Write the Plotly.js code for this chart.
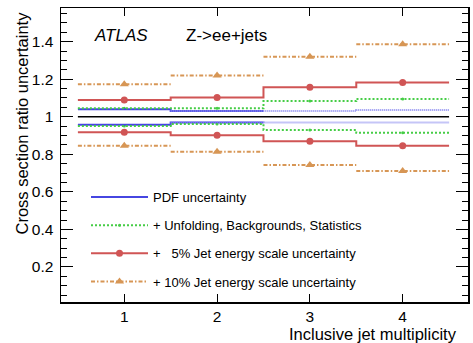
<!DOCTYPE html>
<html><head><meta charset="utf-8">
<script src="https://cdn.plot.ly/plotly-3.0.1.min.js"></script>
<style>html,body{margin:0;padding:0;background:#fff}</style>
</head><body><div id="chart" style="width:473px;height:343px"></div>
<script>
// ---- data ----
const binEdges = [0.5, 1.5, 2.5, 3.5, 4.5];
const jetMult = [1, 2, 3, 4];
const tickLabels = ['1', '2', '3', '4'];
const central = [1, 1, 1, 1];
const pdfUp = [1.040, 1.031, 1.031, 1.036];
const pdfDn = [0.958, 0.970, 0.969, 0.969];
const unfUp = [1.045, 1.045, 1.084, 1.095];
const unfDn = [0.951, 0.962, 0.930, 0.915];
const jes5Up = [1.089, 1.102, 1.157, 1.182];
const jes5Dn = [0.917, 0.902, 0.870, 0.846];
const jes10Up = [1.173, 1.219, 1.320, 1.386];
const jes10Dn = [0.846, 0.813, 0.743, 0.711];
const seriesNames = ['PDF uncertainty', '+ Unfolding, Backgrounds, Statistics',
  '+   5% Jet energy scale uncertainty', '+ 10% Jet energy scale uncertainty'];

// ---- helpers ----
const FONT = 'Liberation Sans, Arial, Helvetica, sans-serif';
function stepY(v){ return v.concat([v[v.length-1]]); }
function stepTrace(edges, vals, line, group){
  return {x: edges, y: stepY(vals), type: 'scatter', mode: 'lines', line: Object.assign({shape: 'hv'}, line),
    showlegend: false, legendgroup: group, hoverinfo: 'skip'};
}
function segTrace(edges, vals, line, group){
  const x = [], y = [];
  vals.forEach((v, i) => { x.push(edges[i], edges[i+1], null); y.push(v, v, null); });
  return {x: x, y: y, type: 'scatter', mode: 'lines', connectgaps: false, line: line,
    showlegend: false, legendgroup: group, hoverinfo: 'skip'};
}
function pointsTrace(up, dn, line, marker, name, group, showlegend){
  const x = [], y = [];
  [up, dn].forEach(arr => arr.forEach((v, i) => { x.push(jetMult[i], null); y.push(v, null); }));
  return {x: x, y: y, type: 'scatter', mode: 'lines+markers', connectgaps: false, line: line, marker: marker,
    name: name, legendgroup: group, showlegend: showlegend};
}

const blue = 'rgb(70,70,225)', blueLight = 'rgb(140,140,240)';
const green = 'rgb(70,205,70)';
const red = 'rgb(208,85,85)';
const orange = 'rgb(215,150,85)';

const pdfSolid = {color: blue, width: 2};
const pdfDot = {color: blueLight, width: 2, dash: '1px,1px'};
const unfLine = {color: green, width: 2, dash: '2px,2px'};
const j5Line = {color: red, width: 2};
const j10Line = {color: orange, width: 2, dash: '4px,2px,1.5px,2px'};

const traces = [
  {x: [null], y: [null], type: 'scatter', mode: 'lines', line: pdfSolid, name: seriesNames[0], legendgroup: 'g1', showlegend: true},
  pointsTrace(unfUp, unfDn, unfLine, {color: green, size: 3}, seriesNames[1], 'g2', true),
  pointsTrace(jes5Up, jes5Dn, j5Line, {color: red, size: 7, symbol: 'circle'}, seriesNames[2], 'g3', true),
  pointsTrace(jes10Up, jes10Dn, j10Line, {color: orange, size: 8, symbol: 'triangle-up'}, seriesNames[3], 'g4', true),
  stepTrace(binEdges, central, {color: 'black', width: 1.5}, 'g0'),
  stepTrace(binEdges.slice(0,3), pdfUp.slice(0,2), pdfSolid, 'g1'),
  stepTrace(binEdges.slice(0,3), pdfDn.slice(0,2), pdfSolid, 'g1'),
  stepTrace(binEdges.slice(1), pdfUp.slice(1), pdfDot, 'g1'),
  stepTrace(binEdges.slice(1), pdfDn.slice(1), pdfDot, 'g1'),
  stepTrace(binEdges, unfUp, unfLine, 'g2'),
  stepTrace(binEdges, unfDn, unfLine, 'g2'),
  stepTrace(binEdges, jes5Up, j5Line, 'g3'),
  stepTrace(binEdges, jes5Dn, j5Line, 'g3'),
  segTrace(binEdges, jes10Up, j10Line, 'g4'),
  segTrace(binEdges, jes10Dn, j10Line, 'g4')
];

const W = 473, H = 343, L = 61, R = 5, T = 8, B = 41;
const pw = W - L - R, ph = H - T - B;
const px = v => (v - L) / pw;
const py = v => (H - B - v) / ph;

const layout = {
  width: W, height: H,
  margin: {l: L, r: R, t: T, b: B, pad: 0},
  paper_bgcolor: 'white', plot_bgcolor: 'white',
  font: {family: FONT, color: 'black', size: 15},
  showlegend: true,
  legend: {x: px(86), y: py(182), xanchor: 'left', yanchor: 'top', bgcolor: 'rgba(0,0,0,0)',
    borderwidth: 0, font: {family: FONT, size: 13, color: 'black'}, traceorder: 'grouped',
    tracegroupgap: 8.3, itemwidth: 57},
  xaxis: {range: [0.318, 4.704], tickvals: jetMult, ticktext: tickLabels, ticks: 'inside', ticklen: 8,
    tickwidth: 1, tickcolor: 'black', mirror: 'ticks', showline: true, linecolor: 'black', linewidth: 1.5,
    showgrid: false, zeroline: false, tickfont: {size: 15.5, family: FONT}, ticklabelstandoff: 0},
  yaxis: {range: [0.0136, 1.579], dtick: 0.2, tick0: 0, ticks: 'inside', ticklen: 12, tickwidth: 1,
    tickcolor: 'black', mirror: 'ticks', showline: true, linecolor: 'black', linewidth: 1.5,
    showgrid: false, zeroline: false, tickfont: {size: 15.5, family: FONT}, ticklabelstandoff: 3,
    minor: {dtick: 0.05, ticks: 'inside', ticklen: 6, tickcolor: 'black', tickwidth: 1, showgrid: false}},
  annotations: [
    {text: 'ATLAS', xref: 'paper', yref: 'paper', x: px(92), y: py(35), xanchor: 'left', yanchor: 'middle',
      showarrow: false, font: {family: FONT, size: 17, style: 'italic'}},
    {text: 'Z->ee+jets', xref: 'paper', yref: 'paper', x: px(184), y: py(35), xanchor: 'left', yanchor: 'middle',
      showarrow: false, font: {family: FONT, size: 17}},
    {text: 'Inclusive jet multiplicity', xref: 'paper', yref: 'paper', x: px(459), y: py(334), xanchor: 'right',
      yanchor: 'middle', showarrow: false, font: {family: FONT, size: 16.5}},
    {text: 'Cross section ratio uncertainty', xref: 'paper', yref: 'paper', x: px(21), y: py(10), xanchor: 'center',
      yanchor: 'top', textangle: -90, showarrow: false, font: {family: FONT, size: 16.5}}
  ]
};

Plotly.newPlot('chart', traces, layout, {staticPlot: true, displayModeBar: false});
</script>
</body></html>
